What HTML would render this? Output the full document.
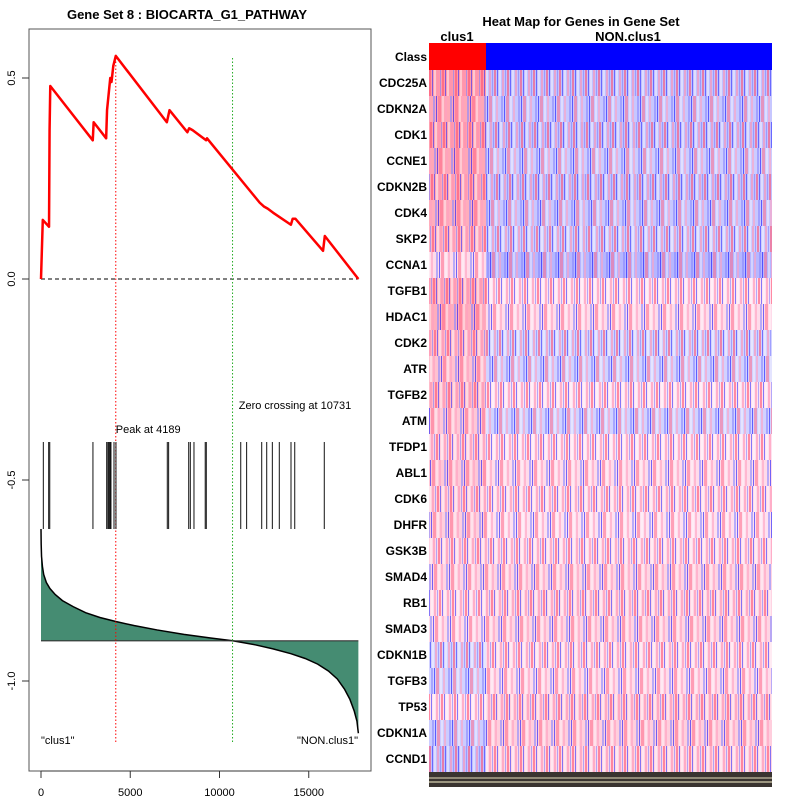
<!DOCTYPE html>
<html><head><meta charset="utf-8"><style>
body{margin:0;background:#fff;width:800px;height:800px;overflow:hidden;font-family:"Liberation Sans",sans-serif}
svg{display:block}
</style></head><body>
<svg id="c" width="800" height="800" xmlns="http://www.w3.org/2000/svg">
<defs>
<pattern id="stripes" width="13" height="26" patternUnits="userSpaceOnUse">
<rect x="0" y="0" width="2" height="26" fill="#ff5070" opacity="0.6"/>
<rect x="3" y="0" width="1" height="26" fill="#2020ff" opacity="0.55"/>
<rect x="5" y="0" width="2" height="26" fill="#ffffff" opacity="0.45"/>
<rect x="8" y="0" width="2" height="26" fill="#ff90b0" opacity="0.6"/>
<rect x="11" y="0" width="1" height="26" fill="#8080ff" opacity="0.6"/>
</pattern>
<pattern id="stripes2" width="17" height="26" patternUnits="userSpaceOnUse">
<rect x="1" y="0" width="2" height="26" fill="#8888ff" opacity="0.6"/>
<rect x="4" y="0" width="1" height="26" fill="#0000ff" opacity="0.55"/>
<rect x="6" y="0" width="3" height="26" fill="#ff6080" opacity="0.5"/>
<rect x="10" y="0" width="2" height="26" fill="#ffffff" opacity="0.4"/>
<rect x="13" y="0" width="2" height="26" fill="#ffa0c0" opacity="0.6"/>
</pattern>
</defs>
<text x="187" y="19" text-anchor="middle" font-size="13" font-weight="bold">Gene Set  8 : BIOCARTA_G1_PATHWAY</text>
<rect x="29" y="29" width="342" height="742" fill="none" stroke="#555" stroke-width="1"/>
<g id="axes"></g>
<g id="es"></g>
<text x="581" y="26" text-anchor="middle" font-size="13" font-weight="bold">Heat Map for Genes in Gene Set</text>
<text x="457" y="41" text-anchor="middle" font-size="13" font-weight="bold">clus1</text>
<text x="628" y="41" text-anchor="middle" font-size="13" font-weight="bold">NON.clus1</text>
<g id="hm"></g>
</svg>
<script>
const NS="http://www.w3.org/2000/svg";
function mk(p,t,a){const e=document.createElementNS(NS,t);for(const k in a)e.setAttribute(k,a[k]);p.appendChild(e);return e;}
const xTicks=[0,5000,10000,15000];
const yTicks=[0.5,0.0,-0.5,-1.0];
const yTickLabels=["0.5","0.0","-0.5","-1.0"];
const esRank=[0,100,450,480,520,2900,2950,3650,3700,3880,3950,4050,4189,7050,7200,8200,8300,8500,9250,9300,12250,12500,12700,13000,14000,14100,14250,15800,15900,17780];
const esVal=[0,0.147,0.13,0.37,0.48,0.345,0.39,0.35,0.42,0.5,0.49,0.53,0.555,0.39,0.42,0.365,0.375,0.37,0.345,0.35,0.19,0.18,0.175,0.165,0.135,0.15,0.15,0.07,0.107,0];
const hitRanks=[130,430,490,2910,3680,3750,3810,3870,3920,4090,4200,7075,7150,8275,8365,8570,9200,9260,11190,11520,12365,12645,12960,13350,14005,14215,15870];
const metricRank=[0,10,30,80,150,300,500,800,1200,1800,2500,3300,4189,5200,6500,8000,9500,10731,12000,13000,14000,14800,15500,16100,16600,17000,17300,17550,17700,17780];
const metricVal=[-0.622,-0.66,-0.69,-0.715,-0.735,-0.755,-0.77,-0.785,-0.8,-0.815,-0.83,-0.842,-0.852,-0.862,-0.873,-0.884,-0.893,-0.9,-0.91,-0.92,-0.932,-0.944,-0.958,-0.975,-0.995,-1.02,-1.045,-1.075,-1.1,-1.13];
const peakRank=4189, zeroRank=10731, metricBase=-0.9;
const X=v=>41+v*0.01785, Y=v=>279-v*402;
const ax=document.getElementById('axes');
xTicks.forEach(t=>{const l=mk(ax,'line',{x1:X(t),x2:X(t),y1:771,y2:778,stroke:'#333'});

const s=mk(ax,'text',{x:X(t),y:796,'text-anchor':'middle','font-size':11});s.textContent=t;
});
mk(ax,'line',{x1:X(0),x2:X(15000),y1:771,y2:771,stroke:'#333'});
yTicks.forEach((t,i)=>{const l=mk(ax,'line',{x1:22,x2:29,y1:Y(t),y2:Y(t),stroke:'#333'});

const s=mk(ax,'text',{x:0,y:0,'text-anchor':'middle','font-size':11,transform:`translate(15,${Y(t)}) rotate(-90)`});s.textContent=yTickLabels[i];
});
const g=document.getElementById('es');
let d=`M${X(metricRank[0])},${Y(metricBase)}`;metricRank.forEach((r,i)=>d+=` L${X(r)},${Y(metricVal[i])}`);d+=` L${X(metricRank[metricRank.length-1])},${Y(metricBase)} Z`;
const a=mk(g,'path',{d:d,fill:'#458c72',stroke:'none'});
const ml=mk(g,'polyline',{points:metricRank.map((r,i)=>X(r)+','+Y(metricVal[i])).join(' '),fill:'none',stroke:'#000','stroke-width':1.5});

mk(g,'line',{x1:X(0),x2:X(17780),y1:Y(metricBase),y2:Y(metricBase),stroke:'#333','stroke-width':1.2});
const z=mk(g,'line',{x1:X(0),x2:X(17780),y1:Y(0),y2:Y(0),stroke:'#000','stroke-dasharray':'4,3'});

const pl=mk(g,'line',{x1:X(peakRank),x2:X(peakRank),y1:58,y2:743,stroke:'red','stroke-dasharray':'1.5,2'});

const zl=mk(g,'line',{x1:X(zeroRank),x2:X(zeroRank),y1:58,y2:743,stroke:'#2a2','stroke-dasharray':'1.5,2'});

hitRanks.forEach(r=>{const h=mk(g,'line',{x1:X(r),x2:X(r),y1:442,y2:529,stroke:'#111','stroke-width':1});
});
const es=mk(g,'polyline',{points:esRank.map((r,i)=>X(r)+','+Y(esVal[i])).join(' '),fill:'none',stroke:'red','stroke-width':2.5,'stroke-linejoin':'round'});

function txt(x,y,s,anc,name){const t=mk(g,'text',{x:x,y:y,'font-size':11,'text-anchor':anc});t.textContent=s;}
txt(X(peakRank),433,'Peak at 4189','start','peak-label');
txt(295,409,'Zero crossing at 10731','middle','zero-crossing-label');
txt(41,744,'"clus1"','start','clus1-label');
txt(358,744,'"NON.clus1"','end','nonclus1-label');
const genes=["CDC25A","CDKN2A","CDK1","CCNE1","CDKN2B","CDK4","SKP2","CCNA1","TGFB1","HDAC1","CDK2","ATR","TGFB2","ATM","TFDP1","ABL1","CDK6","DHFR","GSK3B","SMAD4","RB1","SMAD3","CDKN1B","TGFB3","TP53","CDKN1A","CCND1"];
const meanClus1=[0.55,0.45,0.5,0.45,0.45,0.4,0.35,0.05,0.4,0.4,0.3,0.25,0.3,0.2,0.15,0.2,0.15,0.15,0.1,0.1,0.05,0.05,-0.05,-0.05,0.0,-0.1,-0.2];
const meanNon=[-0.2,-0.15,-0.2,-0.1,-0.2,-0.15,-0.1,-0.3,0.0,0.05,-0.05,-0.05,0.0,-0.05,0.0,0.05,0.05,0.0,0.05,0.1,0.1,0.1,0.05,0.05,0.15,0.15,0.1];
const hm=document.getElementById('hm');
const HX0=429,HX1=772,HSPLIT=486,HY0=70,RH=26;
function col(v){v=Math.max(-1,Math.min(1,v));if(v>=0){const k=Math.round(225-v*130);return `rgb(255,${k},${Math.min(255,k+15)})`;}const k=Math.round(215+v*110);return `rgb(${k},${k},255)`;}
let r=mk(hm,'rect',{x:HX0,y:43,width:HSPLIT-HX0,height:27,fill:'#ff0000'});
r=mk(hm,'rect',{x:HSPLIT,y:43,width:HX1-HSPLIT,height:27,fill:'#0000ff'});
let t=mk(hm,'text',{x:427,y:61,'text-anchor':'end','font-size':12,'font-weight':'bold'});t.textContent='Class';
genes.forEach((gn,i)=>{const y=HY0+i*RH;
const c1=mk(hm,'rect',{x:HX0,y:y,width:HSPLIT-HX0,height:RH,fill:col(meanClus1[i])});
const c2=mk(hm,'rect',{x:HSPLIT,y:y,width:HX1-HSPLIT,height:RH,fill:col(meanNon[i])});
const o=mk(hm,'rect',{x:HX0,y:y,width:HX1-HX0,height:RH,fill:i%2?'url(#stripes2)':'url(#stripes)'});
o.setAttribute('transform',`translate(${(i*7)%13},0)`);o.setAttribute('x',HX0-(i*7)%13);
const l=mk(hm,'text',{x:427,y:y+17,'text-anchor':'end','font-size':12,'font-weight':'bold'});l.textContent=gn;
});
const b=mk(hm,'rect',{x:HX0,y:772,width:HX1-HX0,height:15,fill:'#3a3430'});
mk(hm,'line',{x1:HX0,x2:HX1,y1:778,y2:778,stroke:'#e8e0c0','stroke-width':1});
mk(hm,'line',{x1:HX0,x2:HX1,y1:782,y2:782,stroke:'#fff8d0','stroke-width':1});
</script>
</body></html>
